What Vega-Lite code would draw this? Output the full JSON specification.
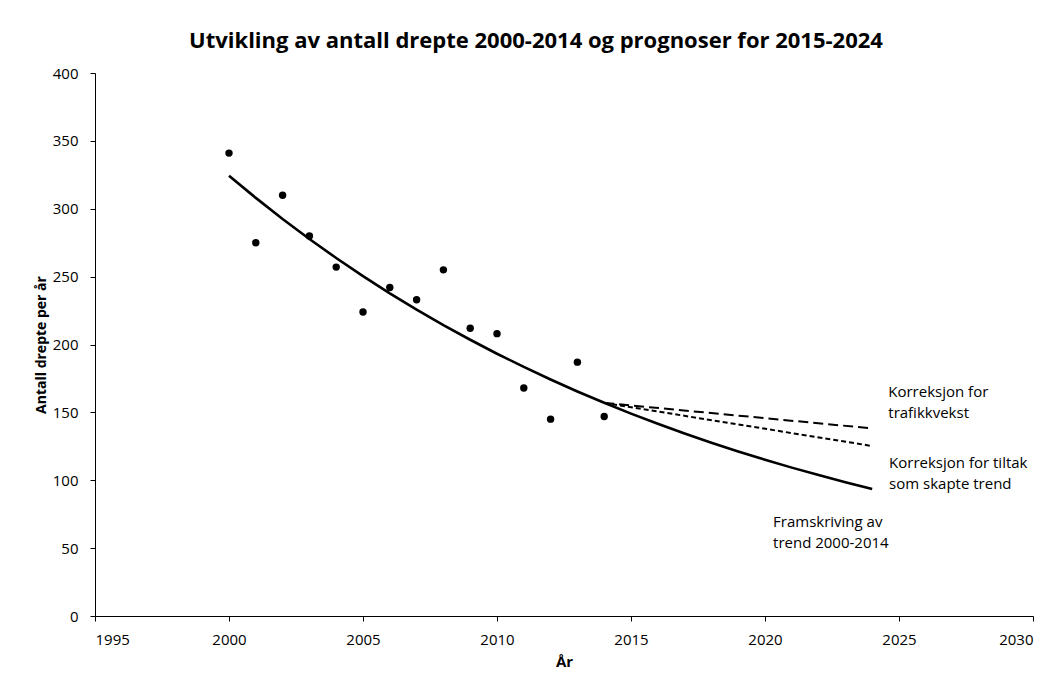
{
  "$schema": "https://vega.github.io/schema/vega-lite/v6.json",
  "width": 938,
  "height": 543,
  "autosize": {"type": "none"},
  "padding": {"left": 95, "top": 73, "right": 21, "bottom": 67},
  "background": "white",
  "title": {
    "text": "Utvikling av antall drepte 2000-2014 og prognoser for 2015-2024",
    "font": "Open Sans",
    "fontSize": 22,
    "fontWeight": "bold",
    "color": "#000000",
    "anchor": "middle",
    "dx": -28,
    "offset": 13
  },
  "config": {
    "view": {"stroke": null},
    "axis": {
      "labelFont": "Open Sans",
      "labelFontSize": 15,
      "labelColor": "#000000",
      "titleFont": "Open Sans",
      "titleFontWeight": "bold",
      "titleColor": "#000000",
      "domainColor": "#000000",
      "tickColor": "#000000",
      "tickSize": 5,
      "grid": false
    }
  },
  "datasets": {
    "obs": [
      {"year": 2000, "value": 341},
      {"year": 2001, "value": 275},
      {"year": 2002, "value": 310},
      {"year": 2003, "value": 280},
      {"year": 2004, "value": 257},
      {"year": 2005, "value": 224},
      {"year": 2006, "value": 242},
      {"year": 2007, "value": 233},
      {"year": 2008, "value": 255},
      {"year": 2009, "value": 212},
      {"year": 2010, "value": 208},
      {"year": 2011, "value": 168},
      {"year": 2012, "value": 145},
      {"year": 2013, "value": 187},
      {"year": 2014, "value": 147}
    ],
    "lines": [
      {"series": "trend", "year": 2000, "value": 324.4},
      {"series": "trend", "year": 2001, "value": 308.0},
      {"series": "trend", "year": 2002, "value": 292.5},
      {"series": "trend", "year": 2003, "value": 277.7},
      {"series": "trend", "year": 2004, "value": 263.7},
      {"series": "trend", "year": 2005, "value": 250.4},
      {"series": "trend", "year": 2006, "value": 237.7},
      {"series": "trend", "year": 2007, "value": 225.7},
      {"series": "trend", "year": 2008, "value": 214.3},
      {"series": "trend", "year": 2009, "value": 203.5},
      {"series": "trend", "year": 2010, "value": 193.2},
      {"series": "trend", "year": 2011, "value": 183.5},
      {"series": "trend", "year": 2012, "value": 174.2},
      {"series": "trend", "year": 2013, "value": 165.4},
      {"series": "trend", "year": 2014, "value": 157.1},
      {"series": "trend", "year": 2015, "value": 149.1},
      {"series": "trend", "year": 2016, "value": 141.6},
      {"series": "trend", "year": 2017, "value": 134.5},
      {"series": "trend", "year": 2018, "value": 127.7},
      {"series": "trend", "year": 2019, "value": 121.2},
      {"series": "trend", "year": 2020, "value": 115.1},
      {"series": "trend", "year": 2021, "value": 109.3},
      {"series": "trend", "year": 2022, "value": 103.8},
      {"series": "trend", "year": 2023, "value": 98.5},
      {"series": "trend", "year": 2024, "value": 93.6},
      {"series": "trafikk", "year": 2014, "value": 157.0},
      {"series": "trafikk", "year": 2024, "value": 138.2},
      {"series": "tiltak", "year": 2014, "value": 157.0},
      {"series": "tiltak", "year": 2024, "value": 125.2}
    ],
    "notes": [
      {"year": 2024.6, "value": 165.0, "label": ["Korreksjon for", "trafikkvekst"]},
      {"year": 2024.63, "value": 112.7, "label": ["Korreksjon for tiltak", "som skapte trend"]},
      {"year": 2020.3, "value": 69.2, "label": ["Framskriving av", "trend 2000-2014"]}
    ]
  },
  "encoding": {
    "x": {
      "field": "year",
      "type": "quantitative",
      "scale": {"domain": [1995, 2030], "nice": false, "zero": false},
      "axis": {
        "title": "År",
        "titleFontSize": 15,
        "values": [1995, 2000, 2005, 2010, 2015, 2020, 2025, 2030],
        "format": "d",
        "labelPadding": 11,
        "titlePadding": 7
      }
    },
    "y": {
      "field": "value",
      "type": "quantitative",
      "scale": {"domain": [0, 400], "nice": false},
      "axis": {
        "title": "Antall drepte per år",
        "titleFontSize": 14,
        "values": [0, 50, 100, 150, 200, 250, 300, 350, 400],
        "labelPadding": 12,
        "titlePadding": 4
      }
    }
  },
  "layer": [
    {
      "data": {"name": "lines"},
      "transform": [{"filter": "datum.series === 'trend'"}],
      "mark": {"type": "line", "color": "#000000", "strokeWidth": 2.6},
      "encoding": {}
    },
    {
      "data": {"name": "lines"},
      "transform": [{"filter": "datum.series === 'trafikk'"}],
      "mark": {"type": "line", "color": "#000000", "strokeWidth": 2, "strokeDash": [10, 5]},
      "encoding": {}
    },
    {
      "data": {"name": "lines"},
      "transform": [{"filter": "datum.series === 'tiltak'"}],
      "mark": {"type": "line", "color": "#000000", "strokeWidth": 2, "strokeDash": [5, 3]},
      "encoding": {}
    },
    {
      "data": {"name": "obs"},
      "mark": {"type": "circle", "color": "#000000", "opacity": 1, "size": 55}
    },
    {
      "data": {"name": "notes"},
      "mark": {"type": "text", "align": "left", "baseline": "middle", "font": "Open Sans", "fontSize": 15, "lineHeight": 21, "color": "#000000"},
      "encoding": {"text": {"field": "label"}}
    }
  ]
}
